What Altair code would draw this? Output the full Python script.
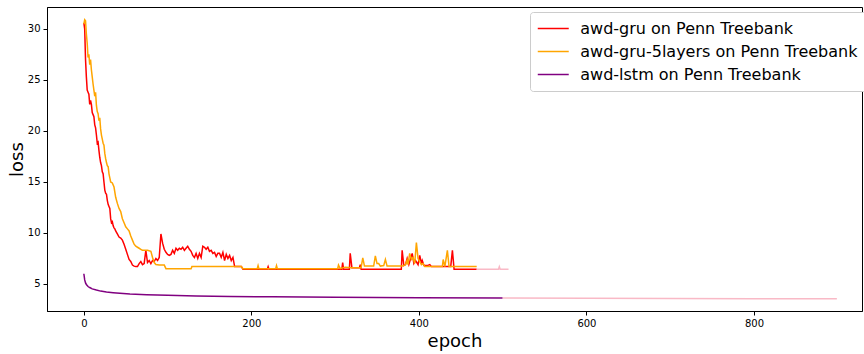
import altair as alt
import pandas as pd

# ---- data ----
gru_epoch = [0, 1, 2, 3, 4, 5, 6, 7, 8, 9, 10, 11, 12, 13, 14, 15, 16, 17, 18, 19, 20,
             21, 22, 23, 24, 25, 26, 27, 28, 29, 30, 31, 32, 33, 34, 35, 36, 37, 38, 40,
             42, 44, 46, 48, 50, 52, 54, 56, 58, 60, 62, 64, 66, 68, 70, 72, 74, 76, 78,
             80, 82, 84, 86, 88, 90, 92, 94, 96, 98, 100, 102, 104, 106, 108, 110, 112,
             114, 116, 118, 120, 122, 124, 126, 128, 130, 132, 134, 136, 138, 140, 142,
             144, 146, 148, 150, 152, 154, 156, 158, 160, 162, 164, 166, 168, 170, 172,
             174, 176, 178, 180, 188, 190, 219, 220, 221, 308, 309, 310, 317, 318, 320,
             322, 329, 330, 331, 379, 380, 382, 384, 386, 388, 392, 394, 396, 399, 401,
             403, 404, 406, 410, 413, 415, 438, 440, 442, 469]
gru_loss = [30.6, 30.0, 27.0, 25.3, 24.0, 23.8, 23.6, 22.6, 23.0, 22.6, 21.8, 21.6, 21.4,
            20.6, 20.3, 19.6, 18.8, 18.9, 18.1, 17.4, 16.9, 16.6, 16.0, 15.8, 15.0, 14.2,
            13.9, 13.8, 13.2, 12.8, 12.6, 12.4, 11.4, 11.0, 11.1, 10.7, 10.5, 10.4, 10.2,
            9.9, 9.6, 9.5, 9.3, 8.9, 8.4, 7.9, 7.4, 7.2, 6.85, 6.75, 6.7, 6.7, 7.0, 7.2,
            6.9, 7.0, 8.3, 7.1, 7.3, 7.0, 7.3, 7.2, 7.5, 7.3, 7.6, 9.9, 9.0, 8.4, 8.1, 7.9,
            7.8, 7.9, 8.3, 8.0, 8.5, 8.3, 8.5, 8.4, 8.6, 8.3, 8.5, 8.7, 8.4, 8.2, 7.8, 7.6,
            8.0, 7.5, 8.0, 7.6, 8.7, 8.6, 8.4, 8.6, 8.2, 8.3, 8.0, 8.1, 7.7, 8.0, 8.0, 7.6,
            8.1, 7.3, 7.9, 7.5, 7.8, 7.3, 7.6, 6.7, 6.7, 6.45, 6.45, 6.7, 6.45, 6.45, 7.1,
            6.45, 6.45, 8.0, 6.6, 6.6, 6.6, 6.9, 6.45, 6.45, 8.3, 6.8, 6.9, 7.5, 6.9, 8.0,
            7.0, 7.3, 6.9, 7.8, 7.0, 7.3, 6.8, 6.8, 6.9, 6.7, 6.7, 8.3, 6.45, 6.45]

gru5_epoch = [0, 1, 2, 3, 4, 5, 6, 7, 8, 9, 10, 11, 12, 13, 14, 15, 16, 17, 18, 19, 20,
              21, 22, 23, 24, 25, 26, 27, 28, 29, 30, 31, 32, 34, 36, 38, 40, 42, 44, 46,
              48, 50, 52, 54, 56, 58, 60, 62, 64, 66, 68, 70, 72, 76, 80, 82, 84, 86, 90,
              96, 98, 128, 129, 188, 190, 207, 208, 209, 229, 230, 231, 303, 304, 306, 312,
              320, 331, 333, 335, 346, 348, 350, 352, 354, 358, 360, 362, 377, 380, 384,
              386, 387, 389, 391, 393, 395, 397, 399, 401, 403, 405, 407, 428, 429, 431,
              434, 436, 469]
gru5_loss = [30.5, 30.9, 30.8, 29.5, 28.6, 27.2, 27.5, 26.5, 27.0, 26.0, 25.3, 24.6, 24.0,
             23.4, 23.8, 22.5, 21.9, 21.7, 21.0, 21.3, 20.2, 19.6, 19.2, 18.8, 18.6, 17.8,
             17.3, 16.9, 16.6, 16.5, 15.8, 15.4, 15.0, 14.9, 14.5, 13.5, 12.9, 12.4, 12.1,
             11.4, 11.0, 10.6, 10.4, 10.2, 9.7, 9.3, 8.9, 8.7, 8.6, 8.5, 8.4, 8.3, 8.3, 8.3,
             8.2, 7.6, 7.1, 6.9, 6.85, 6.85, 6.5, 6.5, 6.7, 6.7, 6.5, 6.5, 6.8, 6.5, 6.5,
             6.8, 6.5, 6.5, 6.85, 6.5, 6.65, 6.6, 6.6, 7.55, 6.75, 6.75, 7.75, 7.0, 7.0,
             6.75, 6.8, 7.4, 6.75, 6.75, 6.75, 6.9, 7.35, 6.9, 8.0, 7.4, 7.6, 7.0, 9.05,
             7.5, 7.2, 6.9, 7.0, 6.7, 6.7, 7.4, 6.7, 8.3, 6.7, 6.7]

lstm_epoch = [0, 1, 2, 3, 5, 7, 10, 15, 20, 27, 35, 43, 55, 75, 100, 134, 175, 225, 300,
              400, 500]
lstm_loss = [6.0, 5.4, 5.1, 4.95, 4.75, 4.65, 4.52, 4.4, 4.3, 4.22, 4.15, 4.09, 4.02, 3.95,
             3.89, 3.82, 3.78, 3.74, 3.70, 3.66, 3.62]

# light continuation lines (not in the legend)
tail_gru_epoch = [469, 495, 496, 497, 507]
tail_gru_loss = [6.45, 6.45, 6.7, 6.45, 6.45]
tail_lstm_epoch = [500, 600, 700, 800, 899]
tail_lstm_loss = [3.62, 3.6, 3.58, 3.56, 3.54]

names = ["awd-gru on Penn Treebank", "awd-gru-5layers on Penn Treebank",
         "awd-lstm on Penn Treebank"]
colors = ["#ff0000", "#ffa500", "#800080"]

x_ticks = [0, 200, 400, 600, 800]
y_ticks = [5, 10, 15, 20, 25, 30]


def frame(ep, ls, name):
    return pd.DataFrame({"epoch": ep, "loss": ls, "series": name})


xs = alt.Scale(domain=[-44, 929], nice=False, zero=False)
ys = alt.Scale(domain=[2.35, 32.15], nice=False, zero=False)
cs = alt.Scale(domain=names, range=colors)

xax = alt.Axis(values=x_ticks, title="epoch", grid=False)
yax = alt.Axis(values=y_ticks, title="loss", grid=False)

legend = alt.Legend(title=None, orient="none", legendX=483, legendY=5,
                    symbolType="M-2,0H2", symbolSize=240, symbolStrokeWidth=1.5,
                    symbolOffset=6.75, labelOffset=18.5,
                    labelFontSize=16, labelFont="DejaVu Sans",
                    labelColor="#000000", rowPadding=6, padding=8,
                    strokeColor="#cccccc", fillColor="white",
                    cornerRadius=3, labelLimit=400)


def series_layer(df):
    return alt.Chart(df).mark_line(strokeWidth=1.5, clip=True).encode(
        x=alt.X("epoch:Q", scale=xs, axis=xax),
        y=alt.Y("loss:Q", scale=ys, axis=yax),
        color=alt.Color("series:N", scale=cs, legend=legend),
        order=alt.Order("epoch:Q"),
    )


red = series_layer(frame(gru_epoch, gru_loss, names[0]))
orange = series_layer(frame(gru5_epoch, gru5_loss, names[1]))
purple = series_layer(frame(lstm_epoch, lstm_loss, names[2]))

tail_df = pd.concat([
    pd.DataFrame({"epoch": tail_gru_epoch, "loss": tail_gru_loss, "seg": "gru"}),
    pd.DataFrame({"epoch": tail_lstm_epoch, "loss": tail_lstm_loss, "seg": "lstm"}),
])
tail = alt.Chart(tail_df).mark_line(strokeWidth=1.5, color="#f9b9c6").encode(
    x=alt.X("epoch:Q", scale=xs, axis=xax),
    y=alt.Y("loss:Q", scale=ys, axis=yax),
    detail="seg:N",
    order=alt.Order("epoch:Q"),
)

chart = alt.layer(red, orange, purple, tail).properties(
    width=815, height=304,
    autosize=alt.AutoSizeParams(type="none"),
    padding={"left": 47, "top": 7, "right": 2, "bottom": 43},
    background="white",
).configure_view(
    stroke="#000000", strokeWidth=1
).configure_axis(
    labelFont="DejaVu Sans", labelFontSize=10, labelColor="#000000",
    titleFont="DejaVu Sans", titleFontSize=18, titleFontWeight="normal",
    titleColor="#000000", tickColor="#000000", domainColor="#000000",
    tickSize=4, labelPadding=3, domainWidth=1, tickWidth=1,
).configure_axisX(
    titlePadding=4
).configure_axisY(
    titlePadding=1
)

chart.save("out.html", embed_options={"renderer": "svg", "actions": False})
